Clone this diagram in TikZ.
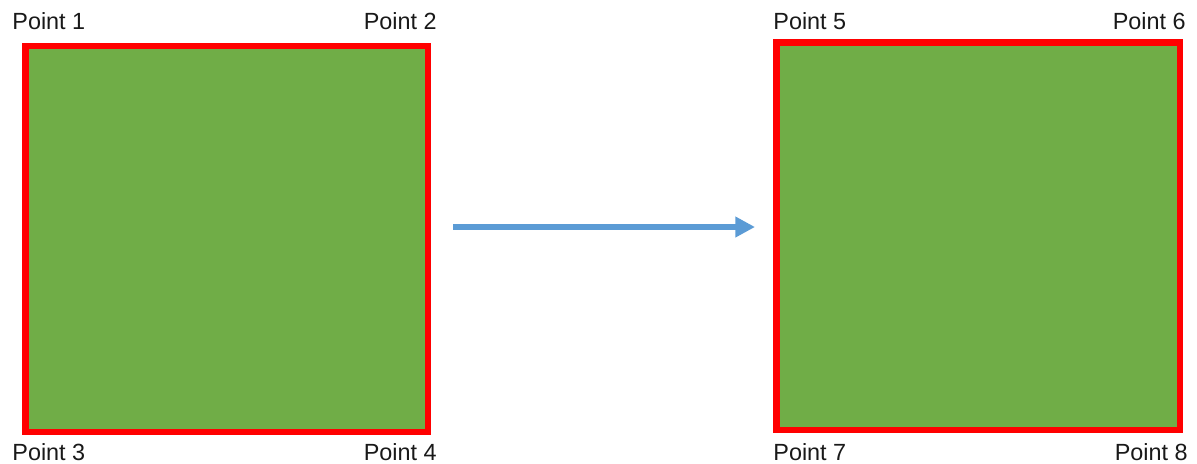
\documentclass[tikz,border=0pt]{standalone}
\usepackage{fontspec}
\setmainfont{Liberation Sans}
\usetikzlibrary{arrows.meta}
\definecolor{sqred}{HTML}{FF0000}
\definecolor{sqgreen}{HTML}{70AD47}
\definecolor{arrblue}{HTML}{5B9BD5}
\begin{document}
\begin{tikzpicture}[x=0.5pt,y=-0.5pt,
  sq/.style={draw=sqred, fill=sqgreen, line width=3.3pt, inner sep=0pt, outer sep=0pt},
  lbl/.style={inner sep=0pt, font=\fontsize{11.7}{13}\selectfont, text=black!90},
  arr/.style={draw=arrblue, line width=3.3pt, -{Triangle[length=9.8pt,width=9.8pt]}}]
\useasboundingbox (0,0) rectangle (1197,463);
\node[sq, minimum width=201.25pt, minimum height=193pt] (A) at (226.75,239) {};
\node[sq, minimum width=201.75pt, minimum height=193.75pt] (B) at (978.25,236.25) {};
\coordinate (s) at (453,227);
\coordinate (e) at (755,227);
\draw[arr] (s) -- (e);
\node[lbl, anchor=base west] (p1) at (12,29) {Point 1};
\node[lbl, anchor=base east] (p2) at (437,29) {Point 2};
\node[lbl, anchor=base west] (p3) at (12,460) {Point 3};
\node[lbl, anchor=base east] (p4) at (437,460) {Point 4};
\node[lbl, anchor=base west] (p5) at (773,29) {Point 5};
\node[lbl, anchor=base east] (p6) at (1186,29) {Point 6};
\node[lbl, anchor=base west] (p7) at (773,460) {Point 7};
\node[lbl, anchor=base east] (p8) at (1188,460) {Point 8};
\end{tikzpicture}
\end{document}
